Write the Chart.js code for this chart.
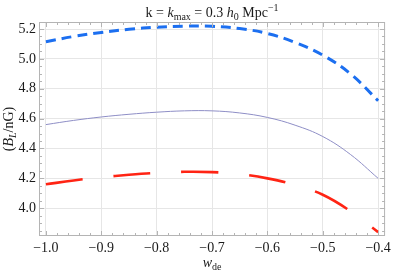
<!DOCTYPE html>
<html>
<head>
<meta charset="utf-8">
<script src="https://cdn.jsdelivr.net/npm/chart.js@4"></script>
<style>
  html, body { margin: 0; padding: 0; background: #fff; }
  #wrap { width: 395px; height: 273px; }
</style>
</head>
<body>
<div id="wrap"><canvas id="canvas" width="395" height="273"></canvas></div>
<script>
const wde = [-1.0, -0.95, -0.9, -0.85, -0.8, -0.75, -0.7, -0.65, -0.6, -0.55, -0.5, -0.45, -0.4];
const blueB = [5.115, 5.15, 5.177, 5.198, 5.212, 5.219, 5.218, 5.203, 5.17, 5.11, 5.025, 4.9, 4.72];
const purpleB = [4.56, 4.588, 4.611, 4.629, 4.643, 4.652, 4.652, 4.638, 4.608, 4.556, 4.48, 4.36, 4.2];
const redB = [4.16, 4.186, 4.207, 4.224, 4.237, 4.244, 4.242, 4.228, 4.2, 4.155, 4.09, 3.98, 3.84];

const xTicks = [-1.0, -0.9, -0.8, -0.7, -0.6, -0.5, -0.4];
const yTicks = [4.0, 4.2, 4.4, 4.6, 4.8, 5.0, 5.2];

// rich text pieces: [text, style] where style n=normal, i=italic, sub, sup
const titleParts = [['k = ', 'n'], ['k', 'i'], ['max', 'sub'], [' = 0.3 ', 'n'], ['h', 'i'], ['0', 'sub'], [' Mpc', 'n'], ['\u22121', 'sup']];
const xTitleParts = [['w', 'i'], ['de', 'sub']];
const yTitleParts = [['(', 'n'], ['B', 'i'], ['L', 'isub'], ['/nG)', 'n']];

const serif = '"Liberation Serif", "DejaVu Serif", serif';

const pts = ys => wde.map((x, i) => ({ x: x, y: ys[i] }));

function fontFor(style) {
  if (style === 'i') return 'italic 14px ' + serif;
  if (style === 'sub' || style === 'sup') return '10px ' + serif;
  if (style === 'isub') return 'italic 10px ' + serif;
  return '14px ' + serif;
}
function drawRich(ctx, parts, cx, cy) {
  ctx.textBaseline = 'alphabetic';
  ctx.textAlign = 'left';
  let w = 0;
  parts.forEach(p => { ctx.font = fontFor(p[1]); w += ctx.measureText(p[0]).width; });
  let x = cx - w / 2;
  parts.forEach(p => {
    ctx.font = fontFor(p[1]);
    let dy = 0;
    if (p[1] === 'sub' || p[1] === 'isub') dy = 3;
    if (p[1] === 'sup') dy = -6;
    ctx.fillText(p[0], x, cy + dy);
    x += ctx.measureText(p[0]).width;
  });
}

const framePlugin = {
  id: 'frame',
  afterDraw(chart) {
    const ctx = chart.ctx;
    const a = chart.chartArea;
    const xs = chart.scales.x, ys = chart.scales.y;
    ctx.save();
    ctx.strokeStyle = '#b4b4b4';
    ctx.lineWidth = 1;
    ctx.strokeRect(a.left + 0.5, a.top + 0.5, a.right - a.left - 1, a.bottom - a.top - 1);
    ctx.beginPath();
    for (let v = -1.0; v <= -0.399; v += 0.02) {
      const px = Math.round(xs.getPixelForValue(v)) + 0.5;
      const major = Math.abs(v * 10 - Math.round(v * 10)) < 1e-6;
      const len = major ? 5 : 3;
      ctx.moveTo(px, a.bottom); ctx.lineTo(px, a.bottom - len);
      ctx.moveTo(px, a.top); ctx.lineTo(px, a.top + len);
    }
    for (let v = 3.85; v <= 5.24; v += 0.05) {
      const py = Math.round(ys.getPixelForValue(v)) + 0.5;
      const major = Math.abs(v * 5 - Math.round(v * 5)) < 1e-6;
      const len = major ? 5 : 3;
      ctx.moveTo(a.left, py); ctx.lineTo(a.left + len, py);
      ctx.moveTo(a.right, py); ctx.lineTo(a.right - len, py);
    }
    ctx.stroke();

    ctx.fillStyle = '#1a1a1a';
    const cx = (a.left + a.right) / 2;
    drawRich(ctx, titleParts, cx, 17);
    drawRich(ctx, xTitleParts, cx, 267);
    ctx.translate(13, (a.top + a.bottom) / 2);
    ctx.rotate(-Math.PI / 2);
    drawRich(ctx, yTitleParts, 0, 0);
    ctx.restore();
  }
};

const fmt = v => (v < 0 ? '\u2212' : '') + Math.abs(v).toFixed(1);

new Chart(document.getElementById('canvas'), {
  type: 'line',
  data: {
    datasets: [
      { data: pts(blueB), borderColor: '#1c6ff0', borderWidth: 3, borderDash: [10, 6], pointRadius: 0, tension: 0.4, borderCapStyle: 'butt' },
      { data: pts(purpleB), borderColor: '#8e8ec6', borderWidth: 1, pointRadius: 0, tension: 0.4 },
      { data: pts(redB), borderColor: '#ff2414', borderWidth: 2.6, borderDash: [37, 31], pointRadius: 0, tension: 0.4, borderCapStyle: 'butt' }
    ]
  },
  options: {
    responsive: false,
    animation: false,
    layout: { padding: { top: 22, right: 8, left: 0, bottom: 0 } },
    plugins: { legend: { display: false }, tooltip: { enabled: false } },
    scales: {
      x: {
        type: 'linear', min: -1.0125, max: -0.3875,
        afterBuildTicks: s => { s.ticks = xTicks.map(v => ({ value: v })); },
        afterFit: s => { s.height = 37; },
        border: { display: false },
        grid: { color: '#e6e6e6', drawTicks: false },
        ticks: { color: '#1a1a1a', font: { family: serif, size: 14 }, padding: 4, maxRotation: 0, autoSkip: false, callback: v => fmt(v) }
      },
      y: {
        type: 'linear', min: 3.814, max: 5.247,
        afterBuildTicks: s => { s.ticks = yTicks.map(v => ({ value: v })); },
        afterFit: s => { s.width = 39; },
        border: { display: false },
        grid: { color: '#e6e6e6', drawTicks: false },
        ticks: { color: '#1a1a1a', font: { family: serif, size: 14 }, padding: 3, autoSkip: false, callback: v => fmt(v) }
      }
    }
  },
  plugins: [framePlugin]
});
</script>
</body>
</html>
